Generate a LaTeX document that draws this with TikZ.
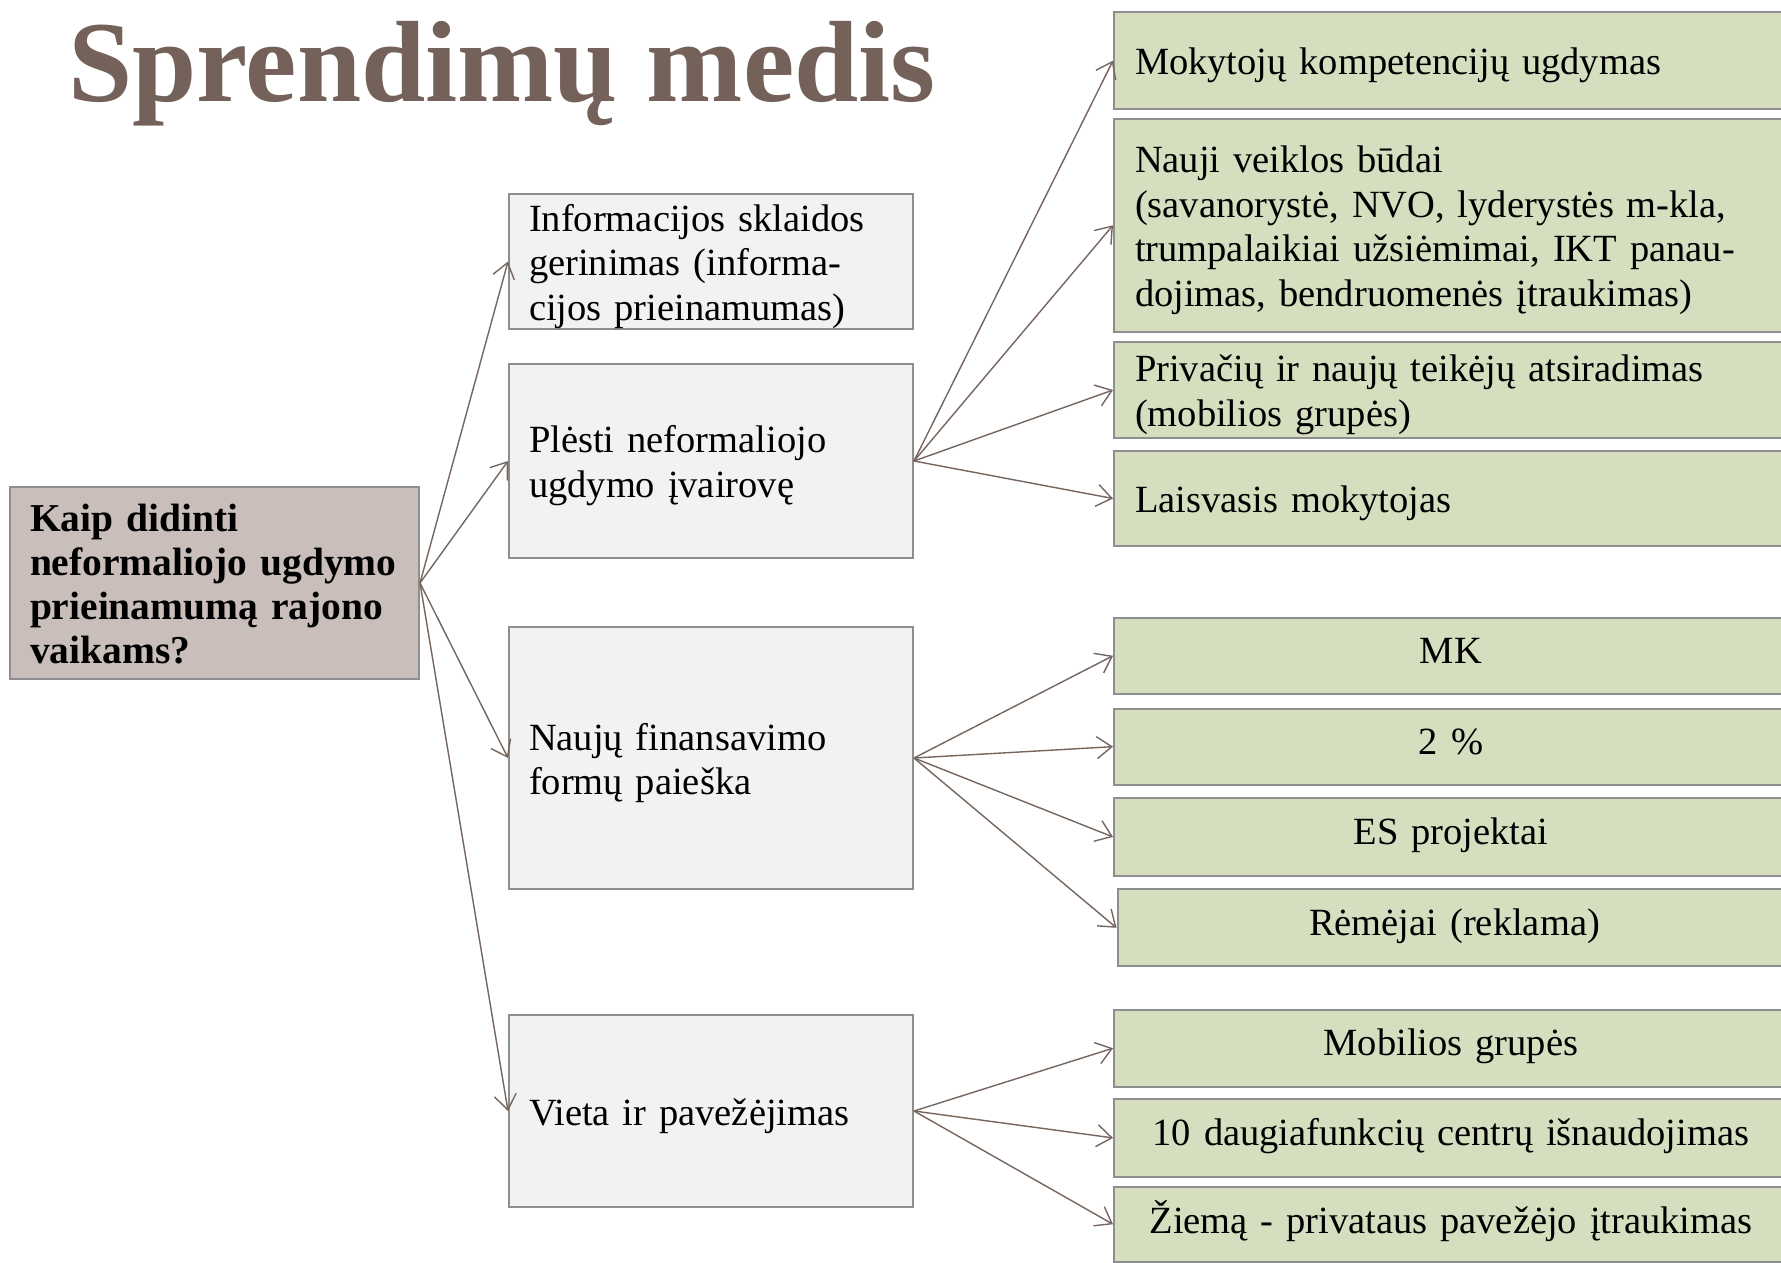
\documentclass[tikz,border=0pt]{standalone}
\usepackage{fontspec}
\setmainfont{Liberation Serif}
\usetikzlibrary{arrows.meta}
\definecolor{titlebrown}{HTML}{74625A}
\definecolor{linebrown}{HTML}{76665D}
\definecolor{boxborder}{HTML}{8E8E8E}
\definecolor{greyfill}{HTML}{F2F2F2}
\definecolor{greenfill}{HTML}{D5DFC0}
\definecolor{rootfill}{HTML}{C9BEB9}
\newcommand\tstrL{\rule{0pt}{36.8pt}}
\newcommand\bstrL{\rule[-7.8pt]{0pt}{7.8pt}}
\newcommand\tstrC{\rule{0pt}{30pt}}
\newcommand\bstrC{\rule[-14.6pt]{0pt}{14.6pt}}
\tikzset{
  bodyfont/.style={font=\fontsize{38.5}{44.6}\selectfont},
  basebox/.style={draw=boxborder, line width=2pt, rectangle, anchor=north west, inner ysep=0pt, inner xsep=20pt, bodyfont},
  leftstruts/.style={execute at begin node=\tstrL, execute at end node=\bstrL},
  centerstruts/.style={execute at begin node=\tstrC, execute at end node=\bstrC},
  greybox/.style={basebox, leftstruts, fill=greyfill, minimum width=404pt, text width=364pt, align=left},
  rootbox/.style={basebox, leftstruts, fill=rootfill, minimum width=409pt, text width=369pt, align=left, font=\fontsize{39.5}{44.3}\selectfont\bfseries},
  greenleft/.style={basebox, leftstruts, fill=greenfill, minimum width=674pt, text width=633pt, inner xsep=21pt, align=left},
  greencenter/.style={basebox, centerstruts, fill=greenfill, minimum width=674pt, text width=640pt, inner xsep=17pt, align=center},
  conn/.style={draw=linebrown, line width=1.4pt, -{Straight Barb[length=15pt,width=22pt,line width=1.4pt]}}
}
\begin{document}
\begin{tikzpicture}[x=1pt,y=-1pt]
\useasboundingbox (0,0) rectangle (1781,1262);
\clip (0,0) rectangle (1781,1262);
\fill[white] (0,0) rectangle (1781,1262);

% title
\node[anchor=base west, inner sep=0pt, text=titlebrown, font=\fontsize{115.5}{130}\selectfont\bfseries] (title) at (68,101) {Sprendimų medis};

% root
\node[rootbox, minimum height=192pt] (root) at (9,486) {Kaip didinti\\neformaliojo ugdymo\\prieinamumą rajono\\vaikams?};

% level 1
\node[greybox, minimum height=135pt] (info) at (508,193) {Informacijos sklaidos\\gerinimas (informa-\\cijos prieinamumas)};
\node[greybox, minimum height=194pt] (plesti) at (508,363) {Plėsti neformaliojo\\ugdymo įvairovę};
\node[greybox, minimum height=262pt] (finans) at (508,626) {Naujų finansavimo\\formų paieška};
\node[greybox, minimum height=192pt] (vieta) at (508,1014) {Vieta ir pavežėjimas};

% level 2: Plėsti
\node[greenleft, minimum height=96.5pt] (g1) at (1113,11.4) {Mokytojų kompetencijų ugdymas};
\node[greenleft, minimum height=212.5pt] (g2) at (1113,118) {Nauji veiklos būdai\\(savanorystė, NVO, lyderystės m-kla,\\trumpalaikiai užsiėmimai, IKT panau-\\dojimas, bendruomenės įtraukimas)};
\node[greenleft, minimum height=96.6pt] (g3) at (1113,340.7) {Privačių ir naujų teikėjų atsiradimas\\(mobilios grupės)};
\node[greenleft, minimum height=95.4pt] (g4) at (1113,449.8) {Laisvasis mokytojas};

% level 2: finansavimas
\node[greencenter, minimum height=76.1pt] (mk) at (1113,616.7) {MK};
\node[greencenter, minimum height=76.1pt] (proc) at (1113,707.6) {2 \%};
\node[greencenter, minimum height=77.3pt] (es) at (1113,797.3) {ES projektai};
\node[greencenter, minimum height=77.2pt, minimum width=670.5pt] (rem) at (1116.5,888.2) {Rėmėjai (reklama)};

% level 2: vieta
\node[greencenter, minimum height=77.2pt] (mob) at (1113,1008.6) {Mobilios grupės};
\node[greencenter, minimum height=77.2pt] (centr) at (1113,1098.3) {10 daugiafunkcių centrų išnaudojimas};
\node[greencenter, minimum height=74.5pt] (ziem) at (1113,1186) {Žiemą - privataus pavežėjo įtraukimas};

% connectors
\foreach \t in {info,plesti,finans,vieta} \draw[conn] (root.east) -- (\t.west);
\foreach \t in {g1,g2,g3,g4} \draw[conn] (plesti.east) -- (\t.west);
\foreach \t in {mk,proc,es,rem} \draw[conn] (finans.east) -- (\t.west);
\foreach \t in {mob,centr,ziem} \draw[conn] (vieta.east) -- (\t.west);
\end{tikzpicture}
\end{document}
